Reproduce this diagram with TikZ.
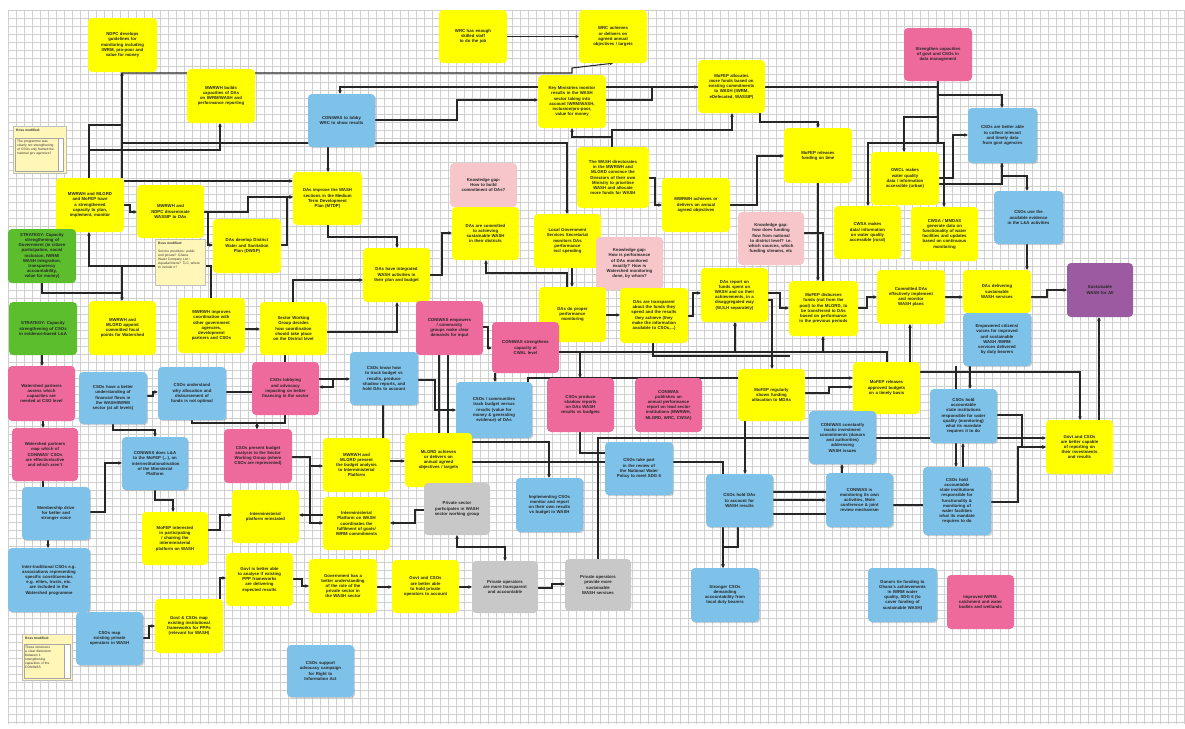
\documentclass[tikz,border=0pt]{standalone}
\usepackage{fontspec}
\setmainfont{Liberation Sans}
\usetikzlibrary{arrows.meta,backgrounds,shadows}
\definecolor{cyel}{HTML}{FFFF00}
\definecolor{cblu}{HTML}{7EC2EA}
\definecolor{cpnk}{HTML}{EE6A9C}
\definecolor{clpk}{HTML}{F7C6CB}
\definecolor{cgrn}{HTML}{5CBD2D}
\definecolor{cpur}{HTML}{9C5BA0}
\definecolor{cgry}{HTML}{C8C8C8}
\definecolor{cnote}{HTML}{FFF6B8}
\definecolor{cgrid}{HTML}{CFCFCF}
\newcommand{\nohy}{\hyphenpenalty=10000\relax\exhyphenpenalty=10000\relax}
\newcommand{\mybox}[7]{%
  \pgfmathsetmacro\bxw{#5-#3}\pgfmathsetmacro\bxh{#6-#4}\pgfmathsetmacro\bxtw{#5-#3-20}%
  \node[#2, minimum width=\bxw pt, minimum height=\bxh pt, text width=\bxtw pt] (#1) at ({(#3+#5)/2},{(#4+#6)/2}) {#7};}
\tikzset{
  box/.style={rounded corners=4pt, align=center, inner xsep=10pt, inner ysep=1.5pt, font=\fontsize{4.3}{5.2}\selectfont\bfseries\nohy, text=black!85},
  yb/.style={box, fill=cyel},
  bb/.style={box, fill=cblu, drop shadow={shadow xshift=1.2pt, shadow yshift=-1.2pt, opacity=0.35}},
  pb/.style={box, fill=cpnk},
  lb/.style={box, fill=clpk},
  gb/.style={box, fill=cgrn},
  ub/.style={box, fill=cpur},
  rb/.style={box, fill=cgry},
  arr/.style={draw=black!85, line width=1.05pt, -{Stealth[length=3.5pt,width=3.5pt]}},
  ln/.style={draw=black!85, line width=1.05pt},
  darr/.style={draw=black!85, line width=1.05pt, {Stealth[length=3.5pt,width=3.5pt]}-{Stealth[length=3.5pt,width=3.5pt]}},
  notebox/.style={fill=cnote, draw=black!25, line width=0.3pt, drop shadow={shadow xshift=1pt, shadow yshift=-1pt, opacity=0.3}},
  notetext/.style={font=\fontsize{3.3}{4}\selectfont\nohy, align=left, inner sep=0pt, text=black!80},
}
\begin{document}
\begin{tikzpicture}[x=1pt,y=-1pt]
\useasboundingbox (0,0) rectangle (1185,728);
\begin{pgfonlayer}{background}
\fill[white] (0,0) rectangle (1185,728);
\foreach \gx in {8,16,...,1184} \draw[cgrid, line width=0.4pt] (\gx,10) -- (\gx,724);
\foreach \gy in {10,18,...,724} \draw[cgrid, line width=0.4pt] (8,\gy) -- (1185,\gy);
\end{pgfonlayer}

% ---------- nodes ----------
\mybox{n1}{yb}{88}{18}{157}{72}{NDPC develops guidelines for monitoring including IWRM, pro-poor and value for money}
\mybox{n2}{yb}{187}{69}{255}{123}{MWRWH builds capacities of DAs on IWRM/WASH and performance reporting}
\mybox{n3}{bb}{308}{94}{375}{147}{CONIWAS to lobby WRC to show results}
\mybox{n5}{yb}{439}{10}{507}{63}{WRC has enough skilled staff to do the job}
\mybox{n6}{yb}{579}{10}{647}{63}{WRC achieves or delivers on agreed annual objectives / targets}
\mybox{n7}{yb}{538}{75}{606}{128}{Key Ministries monitor results in the WASH sector taking into account IWRM/WASH, inclusion/pro-poor, value for money}
\mybox{n8}{yb}{698}{60}{765}{113}{MoFEP allocates more funds based on existing commitments to WASH (IWRM, eDefecated, WASSIP)}
\mybox{n9}{yb}{577}{147}{649}{208}{The WASH directorates in the MWRWH and MLGRD convince the Directors of their own Ministry to prioritise WASH and allocate more funds for WASH}
\mybox{n10}{yb}{662}{178}{730}{232}{MWRWH achieves or delivers on annual agreed objectives}
\mybox{n11}{lb}{450}{163}{517}{207}{Knowledge gap: How to build commitment of DAs?}
\mybox{n12}{pb}{904}{28}{972}{81}{Strengthen capacities of govt and CSOs in data management}
\mybox{n13}{bb}{968}{108}{1037}{163}{CSOs are better able to collect relevant and timely data from govt agencies}
\mybox{n14}{yb}{784}{128}{852}{183}{MoFEP releases funding on time}
\mybox{n15}{yb}{871}{152}{939}{205}{GWCL makes water quality data / information accessible (urban)}
\mybox{n16}{yb}{834}{206}{901}{259}{CWSA makes data/ information on water quality accessible (rural)}
\mybox{n17}{yb}{911}{207}{978}{261}{CWSA / MMDAS generate data on functionality of water facilities and updates based on continuous monitoring}
\mybox{n18}{bb}{994}{191}{1063}{244}{CSOs use the available evidence in the L\&A activities}
\mybox{n19}{ub}{1067}{263}{1133}{317}{Sustainable WASH for All}
\mybox{n20}{yb}{789}{281}{858}{336}{MoFEP disburses funds (not from the pool) to the MLGRD, to be transferred to DAs based on performance in the previous periods}
\mybox{n21}{yb}{877}{270}{945}{324}{Committed DAs effectively implement and monitor WASH plans}
\mybox{n22}{yb}{963}{270}{1031}{313}{DAs delivering sustainable WASH services}
\mybox{n23}{bb}{963}{313}{1031}{366}{Empowered citizens/ voices for improved and sustainable WASH /IWRM services delivered by duty bearers}
\mybox{n24}{lb}{738}{212}{804}{265}{Knowledge gap: how does funding flow from national to district level? i.e. which sources, which funding streams, etc}
\mybox{n25}{yb}{56}{178}{124}{232}{MWRWH and MLGRD and MoFEP have a strengthened capacity to plan, implement, monitor}
\mybox{n26}{yb}{137}{185}{204}{238}{MWRWH and NDPC disseminate WASSIP to DAs}
\mybox{n27}{yb}{293}{172}{362}{225}{DAs improve the WASH sections in the Medium Term Development Plan (MTDP)}
\mybox{n28}{gb}{8}{229}{76}{283}{STRATEGY: Capacity strengthening of Government (in citizen participation, social inclusion, IWRM/ WASH integration, transparency accountability, value for money)}
\mybox{n30}{yb}{213}{219}{281}{273}{DAs develop District Water and Sanitation Plan (DWSP)}
\mybox{n31}{yb}{363}{248}{430}{302}{DAs have integrated WASH activities in their plan and budget}
\mybox{n32}{gb}{9}{302}{77}{355}{STRATEGY: Capacity strengthening of CSOs in evidence-based L\&A}
\mybox{n33}{yb}{89}{301}{156}{355}{MWRWH and MLGRD appoint committed focal points for Watershed}
\mybox{n34}{yb}{178}{298}{245}{353}{MWRWH improves coordination with other government agencies, development partners and CSOs}
\mybox{n35}{yb}{260}{302}{327}{355}{Sector Working Group decides how coordination should take place on the District level}
\mybox{n36}{yb}{452}{207}{519}{260}{DAs are committed to achieving sustainable WASH in their districts}
\mybox{n37}{yb}{534}{214}{601}{268}{Local Government Services Secretariat monitors DAs performance incl spending}
\mybox{n38}{lb}{596}{237}{663}{290}{Knowledge gap: How is performance of DAs monitored exactly? How is Watershed monitoring done, by whom?}
\mybox{n39}{yb}{539}{287}{606}{342}{DAs do proper performance monitoring}
\mybox{n40}{yb}{620}{288}{688}{343}{DAs are transparent about the funds they spend and the results they achieve (they make the information available to CSOs,...)}
\mybox{n41}{yb}{701}{268}{768}{322}{DAs report on funds spent on WASH and on their achievements, in a disaggregated way (W,S,H separately)}
\mybox{n42}{pb}{416}{301}{483}{355}{CONIWAS empowers / community groups make clear demands for input}
\mybox{n43}{pb}{492}{322}{559}{373}{CONIWAS strengthens capacity at CWAL level}
\mybox{n44}{pb}{8}{366}{75}{421}{Watershed partners assess which capacities are needed at CSO level}
\mybox{n45}{bb}{79}{372}{147}{424}{CSOs have a better understanding of financial flows in the WASH/IWRM sector (at all levels)}
\mybox{n46}{bb}{158}{367}{226}{420}{CSOs understand why allocation and disbursement of funds is not optimal}
\mybox{n47}{pb}{252}{362}{319}{415}{CSOs lobbying and advocacy impacting on better financing in the sector}
\mybox{n48}{bb}{350}{352}{418}{405}{CSOs know how to track budget vs results, produce shadow reports, and hold DAs to account}
\mybox{n49}{pb}{12}{428}{78}{481}{Watershed partners map which of CONIWAS' CSOs are effective/active and which aren't}
\mybox{n50}{bb}{122}{437}{188}{490}{CONIWAS does L\&A to the MoFEP (...), on interinstitutionalisation of the Ministerial Platform}
\mybox{n51}{pb}{224}{429}{292}{483}{CSOs present budget analysis to the Sector Working Group (where CSOs are represented)}
\mybox{n52}{yb}{323}{438}{390}{492}{MWRWH and MLGRD present the budget analysis to Interministerial Platform}
\mybox{n53}{bb}{22}{487}{90}{540}{Membership drive for better and stronger voice}
\mybox{n54}{yb}{142}{512}{208}{565}{MoFEP interested in participating / chairing the interministerial platform on WASH}
\mybox{n55}{yb}{232}{490}{299}{543}{Interministerial platform reinstated}
\mybox{n56}{yb}{323}{497}{390}{550}{Interministerial Platform on WASH coordinates the fulfilment of goals/ IWRM commitments}
\mybox{n57}{bb}{456}{382}{532}{438}{CSOs / communities track budget versus results (value for money \& generating evidence) of DAs}
\mybox{n58}{pb}{547}{378}{614}{432}{CSOs produce shadow reports on DAs WASH results vs budgets}
\mybox{n59}{pb}{635}{378}{702}{432}{CONIWAS publishes an annual performance report on lead sector institutions (MWRWH, MLGRD, WRC, CWSA)}
\mybox{n60}{yb}{738}{369}{805}{421}{MoFEP regularly shows funding allocation to MDAs}
\mybox{n61}{yb}{405}{433}{472}{487}{MLGRD achieves or delivers on annual agreed objectives / targets}
\mybox{n62}{bb}{605}{442}{673}{495}{CSOs take part in the review of the National Water Policy to meet SDG 6}
\mybox{n63}{rb}{424}{483}{490}{535}{Private sector participates in WASH sector working group}
\mybox{n64}{bb}{516}{478}{583}{532}{Implementing CSOs monitor and report on their own results vs budget in WASH}
\mybox{n65}{bb}{706}{474}{773}{527}{CSOs hold DAs to account for WASH results}
\mybox{n66}{yb}{853}{362}{920}{414}{MoFEP releases approved budgets on a timely basis}
\mybox{n67}{bb}{809}{411}{876}{464}{CONIWAS constantly tracks investment commitments (donors and authorities) addressing WASH issues}
\mybox{n68}{bb}{930}{389}{997}{443}{CSOs hold accountable state institutions responsible for water quality (monitoring) what its mandate requires it to do}
\mybox{n69}{yb}{1046}{420}{1113}{474}{Govt and CSOs are better capable of reporting on their investments and results}
\mybox{n70}{bb}{826}{473}{893}{527}{CONIWAS is monitoring its own activities, Mole conference \& joint review mechanism}
\mybox{n71}{bb}{923}{467}{991}{535}{CSOs hold accountable state institutions responsible for functionality \& monitoring of water facilities what its mandate requires to do}
\mybox{n72}{bb}{8}{548}{90}{612}{Inter-traditional CSOs e.g. associations representing specific constituencies e.g. elites, trusts, etc. are included in the Watershed programme}
\mybox{n73}{bb}{76}{612}{143}{665}{CSOs map existing private operators in WASH}
\mybox{n74}{yb}{155}{599}{223}{653}{Govt \& CSOs map existing institutional frameworks for PPPs (relevant for WASH)}
\mybox{n75}{yb}{226}{553}{293}{606}{Govt is better able to analyse if existing PPP frameworks are delivering expected results}
\mybox{n76}{yb}{309}{559}{377}{613}{Government has a better understanding of the role of the private sector in the WASH sector}
\mybox{n78}{bb}{287}{645}{354}{697}{CSOs support advocacy campaign for Right to Information Act}
\mybox{n79}{yb}{392}{560}{459}{613}{Govt and CSOs are better able to hold private operators to account}
\mybox{n80}{rb}{472}{561}{538}{613}{Private operators are more transparent and accountable}
\mybox{n81}{rb}{565}{559}{631}{611}{Private operators provide more sustainable WASH services}
\mybox{n82}{bb}{691}{568}{759}{622}{Stronger CSOs demanding accountability from local duty bearers}
\mybox{n83}{bb}{868}{568}{937}{622}{Donors tie funding to Ghana's achievements in IWRM water quality, SDG 6 (to cover funding of sustainable WASH)}
\mybox{n84}{pb}{947}{575}{1014}{629}{Improved IWRM: catchment and water bodies and wetlands}

% ---------- sticky notes ----------
\node[notebox, minimum width=53pt, minimum height=47pt, inner sep=0pt] (note1) at (39.5,149.5) {};
\node[notetext, anchor=north west] (note1h) at (16,129) {\textbf{Ross modified:}};
\node[notetext, anchor=north west, text width=38pt] (note1b) at (17,140) {The programme was clearly not strengthening of CSOs only framed the national gov agencies?};
\draw[black!35, line width=0.3pt] (15.5,138) rectangle (63,171);
\draw[black!35, line width=0.3pt, fill=white] (58,138) rectangle (63,171);
\node[notebox, minimum width=50pt, minimum height=46pt, inner sep=0pt] (note2) at (180,262) {};
\node[notetext, anchor=north west] (note2h) at (158,242) {\textbf{Ross modified:}};
\node[notetext, anchor=north west, text width=44pt] (note2b) at (158,250) {Service providers: public and private? Ghana Water Company Ltd / Aqualia/Vitens? TLC, where to include it?};
\node[notebox, minimum width=50pt, minimum height=46pt, inner sep=0pt] (note3) at (47,657) {};
\node[notetext, anchor=north west] (note3h) at (25,637) {\textbf{Ross modified:}};
\node[notetext, anchor=north west, text width=33pt] (note3b) at (25,646) {These structures a clear distinction between 1 strengthening capacities of the CONIWAS};
\draw[black!35, line width=0.3pt] (24,644) rectangle (70,678);
\draw[black!35, line width=0.3pt, fill=white] (64,644) rectangle (70,678);

\coordinate (lp) at (333,379);

% ---------- connectors ----------
\begin{pgfonlayer}{background}
\draw[arr] (n25.north -| 122,0) -- (n1.south -| 122,0);
\draw[arr] (n25.north -| 122,0) -- (122,73) -- (572,73) -- (572,68) -- (n6.south -| 613,0);
\draw[arr] (n25.north -| 89,0) -- (89,150) -- (220,150) -- (n2.south -| 220,0);
\draw[ln] (n25.north -| 89,0) -- (89,125) -- (122,125);
\draw[arr] (n12.south -| 938,0) -- (938,87) -- (340,87) -- (n3.north -| 340,0);
\draw[arr] (n3.south -| 328,0) -- (n27.north -| 328,0);
\draw[arr] (n3.east |- 0,120) -- (457,120) -- (457,100) -- (n7.west |- 0,100);
\draw[arr] (n25.north -| 122,0) -- (122,143) -- (567,143) -- (n37.north -| 567,0);
\draw[arr] (n25.east |- 0,181) -- (n27.west |- 0,181);
\draw[arr] (n9.north -| 612,0) -- (612,137) -- (572,137) -- (n7.south -| 572,0);
\draw[arr] (n9.north -| 612,0) -- (612,130) -- (732,130) -- (n8.south -| 732,0);
\draw[arr] (n7.east |- 0,100) -- (652,100) -- (652,87) -- (n8.west |- 0,87);
\draw[arr] (n5) -- (n6);
\draw[arr] (n9.east |- 0,178) -- (655,178) -- (655,205) -- (n10.west |- 0,205);
\draw[arr] (n10.east |- 0,205) -- (757,205) -- (757,156) -- (n14.west |- 0,156);
\draw[arr] (n8.south -| 760,0) -- (760,122) -- (818,122) -- (n14.north -| 818,0);
\draw[arr] (n12.south -| 938,0) -- (938,95) -- (1002,95) -- (n13.north -| 1002,0);
\draw[arr] (n12.south -| 938,0) -- (938,117) -- (904,117) -- (n15.north -| 904,0);
\draw[arr] (n12.south -| 938,0) -- (938,143) -- (868,143) -- (n16.north -| 868,0);
\draw[arr] (n12.south -| 938,0) -- (938,143) -- (944,143) -- (n17.north -| 944,0);
\draw[arr] (n15.east |- 0,178) -- (953,178) -- (953,135) -- (n13.west |- 0,135);
\draw[arr] (n15.east |- 0,184) -- (1002,184) -- (n13.south -| 1002,0);
\draw[arr] (n13.south -| 1002,0) -- (1002,176) -- (1027,176) -- (n18.north -| 1027,0);
\draw[arr] (n14.south -| 818,0) -- (n20.north -| 818,0);
\draw[ln] (n24.east |- 0,233) -- (823,233) -- (n20.north -| 823,0);
\draw[arr] (n20.east |- 0,308) -- (867,308) -- (867,297) -- (n21.west |- 0,297);
\draw[arr] (n21.east |- 0,297) -- (n22.west |- 0,297);
\draw[arr] (n22.east |- 0,297) -- (1047,297) -- (1047,290) -- (n19.west |- 0,290);
\draw[arr] (n18.south -| 1027,0) -- (n22.north -| 1027,0);
\draw[arr] (n69.north -| 1099,0) -- (n19.south -| 1099,0);
\draw[arr] (n66.east |- 0,372) -- (1080,372) -- (n69.north -| 1080,0);
\draw[arr] (n68.east |- 0,415) -- (1022,415) -- (1022,447) -- (n69.west |- 0,447);
\draw[arr] (n71.east |- 0,502) -- (1018,502) -- (1018,447) -- (n69.west |- 0,447);
\draw[arr] (n23.south -| 956,0) -- (n71.north -| 956,0);
\draw[arr] (n71.north -| 963,0) -- (n68.south -| 963,0);
\draw[arr] (n23.south -| 970,0) -- (n68.north -| 970,0);
\draw[arr] (n70.north -| 842,0) -- (n67.south -| 842,0);
\draw[ln] (n65.east |- 0,492) -- (n70.west |- 0,492);
\draw[arr] (n65.east |- 0,500) -- (n70.west |- 0,500);
\draw[ln] (n65.east |- 0,514) -- (n70.west |- 0,514);
\draw[ln] (n70.east |- 0,505) -- (n71.west |- 0,505);
\draw[arr] (n60.east |- 0,393) -- (829,393) -- (829,387) -- (n66.west |- 0,387);
\draw[arr] (n60.south -| 745,0) -- (n65.north -| 745,0);
\draw[arr] (n66.north -| 887,0) -- (887,352) -- (823,352) -- (n20.south -| 823,0);
\draw[arr] (n66.north -| 910,0) -- (n21.south -| 910,0);
\draw[arr] (n57.north -| 528,0) -- (528,378) -- (n66.west |- 0,378);
\draw[arr] (n43.east |- 0,352) -- (735,352) -- (n41.south -| 735,0);
\draw[ln] (735,352) -- (823,352);
\draw[arr] (n43.east |- 0,352) -- (580,352) -- (n58.north -| 580,0);
\draw[ln] (n40.south -| 653,0) -- (653,356) -- (790,356);
\draw[arr] (n40.east |- 0,316) -- (693,316) -- (693,293) -- (n41.west |- 0,293);
\draw[arr] (n39.east |- 0,315) -- (n40.west |- 0,315);
\draw[arr] (n41.east |- 0,293) -- (780,293) -- (780,308) -- (n20.west |- 0,308);
\draw[arr] (n41.east |- 0,300) -- (772,300) -- (n60.north -| 772,0);
\draw[ln] (n58.south -| 580,0) -- (580,453) -- (n62.west |- 0,453);
\draw[arr] (n81.north -| 598,0) -- (598,438) -- (n69.west |- 0,438);
\draw[arr] (n61.east |- 0,462) -- (723,462) -- (n82.north -| 723,0);
\draw[arr] (n61.east |- 0,442) -- (549,442) -- (n64.north -| 549,0);
\draw[arr] (n63.west |- 0,510) -- (415,510) -- (415,523) -- (n56.east |- 0,523);
\draw[darr] (n80.north -| 505,0) -- (505,547) -- (457,547) -- (n63.south -| 457,0);
\draw[arr] (n65.south -| 738,0) -- (738,547) -- (723,547) -- (n82.north -| 723,0);
\draw[arr] (n48.east |- 0,380) -- (435,380) -- (435,410) -- (n57.west |- 0,410);
\draw[arr] (n43.south -| 495,0) -- (n57.north -| 495,0);
\draw[ln] (n42.south -| 448,0) -- (n61.north -| 448,0);
\draw[ln] (n42.south -| 439,0) -- (n61.north -| 439,0);
\draw[arr] (n42.east |- 0,327) -- (488,327) -- (488,348) -- (n43.west |- 0,348);
\draw[arr] (n31.east |- 0,275) -- (442,275) -- (442,233) -- (n36.west |- 0,233);
\draw[arr] (n37.south -| 572,0) -- (n39.north -| 572,0);
\draw[arr] (n39.north -| 567,0) -- (567,273) -- (486,273) -- (n36.south -| 486,0);
\draw[arr] (n52.east |- 0,461) -- (n61.west |- 0,461);
\draw[arr] (n25.east |- 0,205) -- (130,205) -- (130,212) -- (n26.west |- 0,212);
\draw[arr] (n26.east |- 0,212) -- (208,212) -- (208,245) -- (n30.west |- 0,245);
\draw[arr] (n26.east |- 0,212) -- (248,212) -- (248,197) -- (n27.west |- 0,197);
\draw[arr] (n30.east |- 0,245) -- (287,245) -- (287,197) -- (n27.west |- 0,197);
\draw[arr] (n27.south -| 328,0) -- (328,237) -- (397,237) -- (n31.north -| 397,0);
\draw[arr] (n34.north -| 211,0) -- (211,266) -- (89,266) -- (n25.south -| 89,0);
\draw[arr] (n28.south -| 42,0) -- (42,293) -- (122,293) -- (n33.north -| 122,0);
\draw[ln] (89,266) -- (122,266) -- (122,293);
\draw[arr] (n34.east |- 0,329) -- (n35.west |- 0,329);
\draw[arr] (n35.east |- 0,332) -- (397,332) -- (n31.south -| 397,0);
\draw[arr] (n35.north -| 293,0) -- (293,280) -- (n31.west |- 0,280);
\draw[ln] (n35.south -| 285,0) -- (n47.north -| 285,0);
\draw[arr] (n32.south -| 42,0) -- (n44.north -| 42,0);
\draw[arr] (n44.south -| 43,0) -- (n49.north -| 43,0);
\draw[ln] (n49.south -| 43,0) -- (n53.north -| 43,0);
\draw[arr] (n53.south -| 48,0) -- (n72.north -| 48,0);
\draw[arr] (n53.east |- 0,512) -- (105,512) -- (105,463) -- (n50.west |- 0,463);
\draw[arr] (n45.east |- 0,396) -- (153,396) -- (153,392) -- (n46.west |- 0,392);
\draw[arr] (n45.south -| 113,0) -- (113,430) -- (155,430) -- (n50.north -| 155,0);
\draw[arr] (n46.south -| 192,0) -- (192,423) -- (257,423) -- (n51.north -| 257,0);
\draw[arr] (n47.south -| 285,0) -- (285,423) -- (257,423) -- (n51.north -| 257,0);
\draw[ln] (n46.east |- 0,392) -- (n47.west |- 0,392);
\draw[arr] (n47.east |- 0,379) -- (n48.west |- 0,379);
\draw[arr] (lp) -- (333,387) -- (n47.east |- 0,387);
\draw[ln] (n48.south -| 383,0) -- (n52.north -| 383,0);
\draw[arr] (n51.east |- 0,457) -- (310,457) -- (310,466) -- (n52.west |- 0,466);
\draw[arr] (n51.east |- 0,457) -- (310,457) -- (310,523) -- (n56.west |- 0,523);
\draw[arr] (n56.west |- 0,515) -- (n55.east |- 0,515);
\draw[arr] (n54.east |- 0,530) -- (220,530) -- (220,515) -- (n55.west |- 0,515);
\draw[arr] (n50.south -| 155,0) -- (155,500) -- (173,500) -- (n54.north -| 173,0);
\draw[arr] (n73.east |- 0,638) -- (149,638) -- (149,626) -- (n74.west |- 0,626);
\draw[arr] (n74.north -| 220,0) -- (220,578) -- (n75.west |- 0,578);
\draw[arr] (n75.east |- 0,579) -- (302,579) -- (302,586) -- (n76.west |- 0,586);
\draw[arr] (n76.east |- 0,587) -- (n79.west |- 0,587);
\draw[arr] (n79.east |- 0,587) -- (n80.west |- 0,587);
\draw[arr] (n80.east |- 0,588) -- (552,588) -- (552,584) -- (n81.west |- 0,584);
\end{pgfonlayer}
\end{tikzpicture}
\end{document}
